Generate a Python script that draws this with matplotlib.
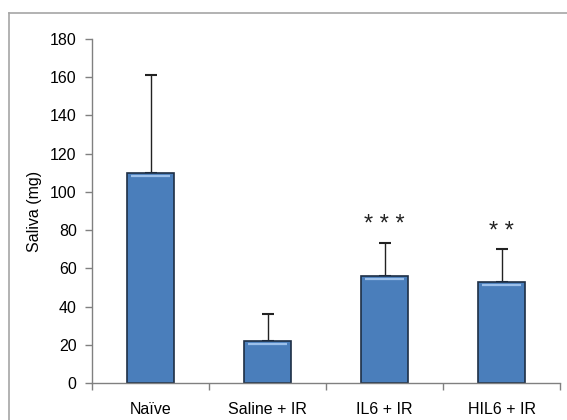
import matplotlib
matplotlib.use("Agg")
import matplotlib.pyplot as plt
from matplotlib.lines import Line2D
import numpy as np

plt.rcParams['font.family'] = ['Liberation Sans', 'DejaVu Sans']

categories = ["Naïve", "Saline + IR", "IL6 + IR", "HIL6 + IR"]
means = [110, 22, 56, 53]
errors = [51, 14, 17.5, 17]
stars = ["", "", "* * *", "* *"]
y_ticks = [0, 20, 40, 60, 80, 100, 120, 140, 160, 180]

fig = plt.figure(figsize=(5.67, 4.20), dpi=100)
ax = fig.add_axes([92/567, 37/420, 468/567, 344/420])

x = np.arange(len(categories))
bar_w = 0.40
ax.bar(x, means, width=bar_w, color="#4A7EBB", edgecolor="#1E2F45",
       linewidth=1.2, zorder=2)
# bevel highlight near top of each bar
for xi, m in zip(x, means):
    ax.plot([xi - bar_w/2 + 0.03, xi + bar_w/2 - 0.03], [m - 1.6, m - 1.6],
            color="#9CC0EA", lw=1.6, solid_capstyle="butt", zorder=3)
ax.errorbar(x, means, yerr=[np.zeros(len(means)), errors], fmt="none",
            ecolor="#222222", elinewidth=1.0, capsize=4, capthick=1.5, zorder=1)

for xi, m, e, s in zip(x, means, errors, stars):
    if s:
        ax.text(xi, m + e + 3.5, s, ha="center", va="bottom", fontsize=17,
                color="#222222")

ax.set_xlim(-0.5, len(categories) - 0.5)
ax.set_ylim(0, 180)
ax.set_yticks(y_ticks)
ax.set_xticks(x)
ax.set_xticklabels(categories, fontsize=11.5)
ax.set_xticks(np.arange(-0.5, len(categories)), minor=True)
ax.tick_params(axis="x", which="major", length=0, pad=14)
ax.tick_params(axis="x", which="minor", length=5, width=1, color="#808080",
               direction="out")
ax.tick_params(axis="y", length=5, width=1, color="#808080", direction="out",
               labelsize=11.5, pad=6)
ax.set_ylabel("Saliva (mg)", fontsize=11.5, labelpad=6)

for sp in ["top", "right"]:
    ax.spines[sp].set_visible(False)
for sp in ["left", "bottom"]:
    ax.spines[sp].set_color("#808080")
    ax.spines[sp].set_linewidth(1.0)

# outer chart frame
fig.add_artist(Line2D([9/567, 9/567], [0, 1 - 13/420], transform=fig.transFigure,
                      color="#A6A6A6", lw=1.2))
fig.add_artist(Line2D([9/567, 1], [1 - 13/420, 1 - 13/420], transform=fig.transFigure,
                      color="#A6A6A6", lw=1.2))

fig.savefig("out.png", dpi=100)
